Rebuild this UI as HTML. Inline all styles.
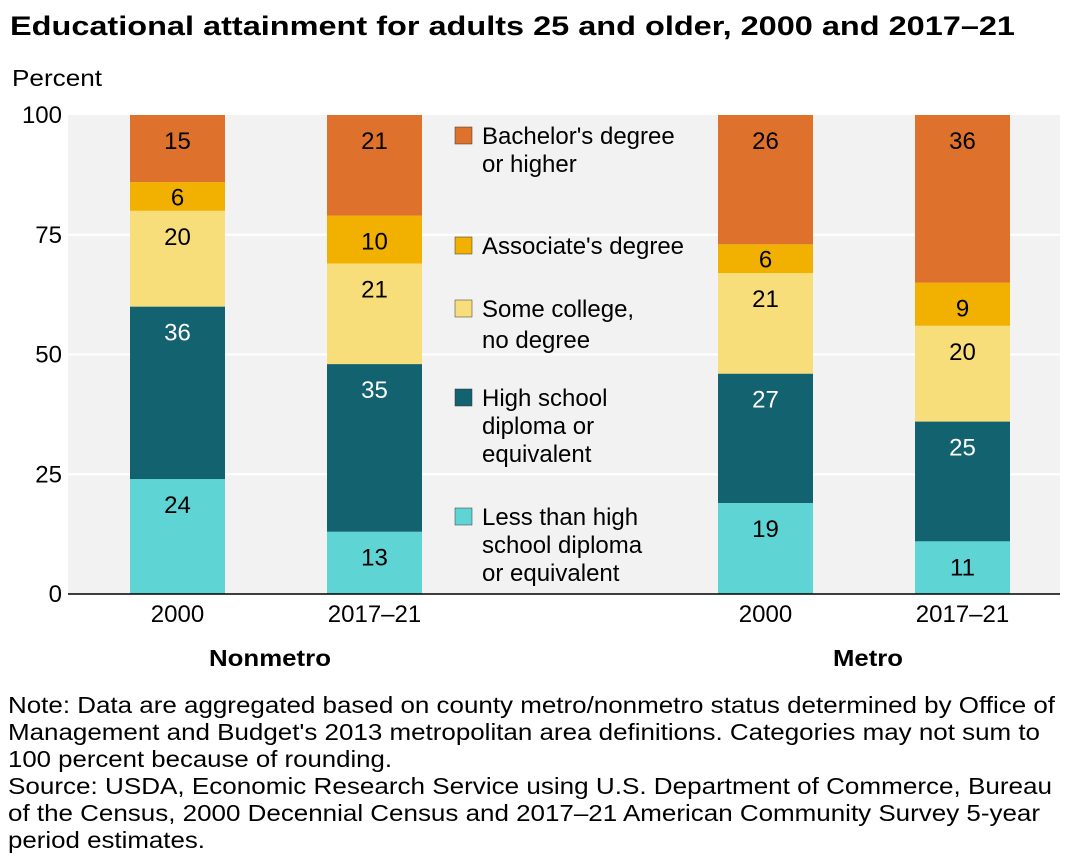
<!DOCTYPE html>
<html><head><meta charset="utf-8"><style>
body{margin:0;background:#fff;font-family:"Liberation Sans",Arial,sans-serif;}
svg text{font-family:"Liberation Sans",Arial,sans-serif;}
</style></head><body>
<svg id="chart" width="1080" height="863" xmlns="http://www.w3.org/2000/svg">
<text x="10" y="35" font-size="27" font-weight="bold" fill="#000" textLength="1005" lengthAdjust="spacingAndGlyphs">Educational attainment for adults 25 and older, 2000 and 2017–21</text>
<text x="12" y="86" font-size="23.5" fill="#000" textLength="90" lengthAdjust="spacingAndGlyphs">Percent</text>
<rect x="68" y="115" width="992" height="479" fill="#f2f2f2"/>
<g id="grid"></g><g id="bars"></g><g id="labels"></g><g id="legend"></g>
<line x1="68" y1="594" x2="1060" y2="594" stroke="#000" stroke-width="1.5"/>
<text x="270" y="666" font-size="23.5" font-weight="bold" text-anchor="middle" textLength="122" lengthAdjust="spacingAndGlyphs">Nonmetro</text>
<text x="868" y="666" font-size="23.5" font-weight="bold" text-anchor="middle" textLength="70" lengthAdjust="spacingAndGlyphs">Metro</text>
<g font-size="23" fill="#000">
<text x="8" y="713" textLength="1047" lengthAdjust="spacingAndGlyphs">Note: Data are aggregated based on county metro/nonmetro status determined by Office of</text>
<text x="8" y="740" textLength="1032" lengthAdjust="spacingAndGlyphs">Management and Budget's 2013 metropolitan area definitions. Categories may not sum to</text>
<text x="8" y="767" textLength="384" lengthAdjust="spacingAndGlyphs">100 percent because of rounding.</text>
<text x="8" y="794" textLength="1044" lengthAdjust="spacingAndGlyphs">Source: USDA, Economic Research Service using U.S. Department of Commerce, Bureau</text>
<text x="8" y="821" textLength="1032" lengthAdjust="spacingAndGlyphs">of the Census, 2000 Decennial Census and 2017–21 American Community Survey 5-year</text>
<text x="8" y="848" textLength="197" lengthAdjust="spacingAndGlyphs">period estimates.</text>
</g>
</svg>
<script>
const categories=["2000","2017–21","2000","2017–21"];
const lessHS=[24,13,19,11];
const highSchool=[36,35,27,25];
const someCollege=[20,21,21,20];
const associate=[6,10,6,9];
const bachelor=[15,21,26,36];
const yTicks=[0,25,50,75,100];
const seriesNames=["less-than-high-school","high-school","some-college","associate","bachelor"];
const series=[lessHS,highSchool,someCollege,associate,bachelor];
const colors=["#5fd4d4","#13626f","#f8de7a","#f2b100","#de712b"];
const textColors=["#000","#fff","#000","#000","#000"];
const barX=[130,327,718,915];
const barW=95;
const y=v=>594-Math.min(v,100)*4.79;
const NS="http://www.w3.org/2000/svg";
function mk(tag,attrs,parent,txt){const e=document.createElementNS(NS,tag);for(const k in attrs)e.setAttribute(k,attrs[k]);if(txt!==undefined)e.textContent=txt;parent.appendChild(e);return e;}
const grid=document.getElementById('grid');
yTicks.forEach(t=>{
 if(t>0&&t<100){const l=mk('line',{x1:68,x2:1060,y1:y(t),y2:y(t),stroke:'#fff','stroke-width':2},grid);
 
 }
 const tx=mk('text',{x:62,y:y(t)+8,'font-size':24,'text-anchor':'end'},grid,String(t));
 
 
});
const bars=document.getElementById('bars'),labels=document.getElementById('labels');
categories.forEach((c,i)=>{
 let cum=0;
 series.forEach((s,j)=>{
  const v=s[i];const y0=y(cum);const top=(j===series.length-1)?100:cum+v;const y1=y(top);
  const r=mk('rect',{x:barX[i],y:y1,width:barW,height:y0-y1,fill:colors[j]},bars);
  
  
  const ly=(j===series.length-1)?y1+34:y1+((y0-y1)>40?34:(y0-y1)/2+9);
  const t=mk('text',{x:barX[i]+barW/2,y:ly,'font-size':24,'text-anchor':'middle',fill:textColors[j]},labels,String(v));
  
  
  cum+=v;
 });
 const xt=mk('text',{x:barX[i]+barW/2,y:622,'font-size':24,'text-anchor':'middle'},labels,c);
 
 
});
const legend=document.getElementById('legend');
const legItems=[[4,136,28,["Bachelor's degree","or higher"]],[3,246,28,["Associate's degree"]],[2,309,31,["Some college,","no degree"]],[1,398,28,["High school","diploma or","equivalent"]],[0,517,28,["Less than high","school diploma","or equivalent"]]];
legItems.forEach(([j,ly,sp,lines])=>{
 const sw=mk('rect',{x:455,y:ly-9,width:17,height:17,fill:colors[j],stroke:'#333','stroke-width':0.5},legend);
 
 
 lines.forEach((ln,k)=>{
  const t=mk('text',{x:482,y:ly+8+k*sp,'font-size':24},legend,ln);
  
  
 });
});
</script>
</body></html>
